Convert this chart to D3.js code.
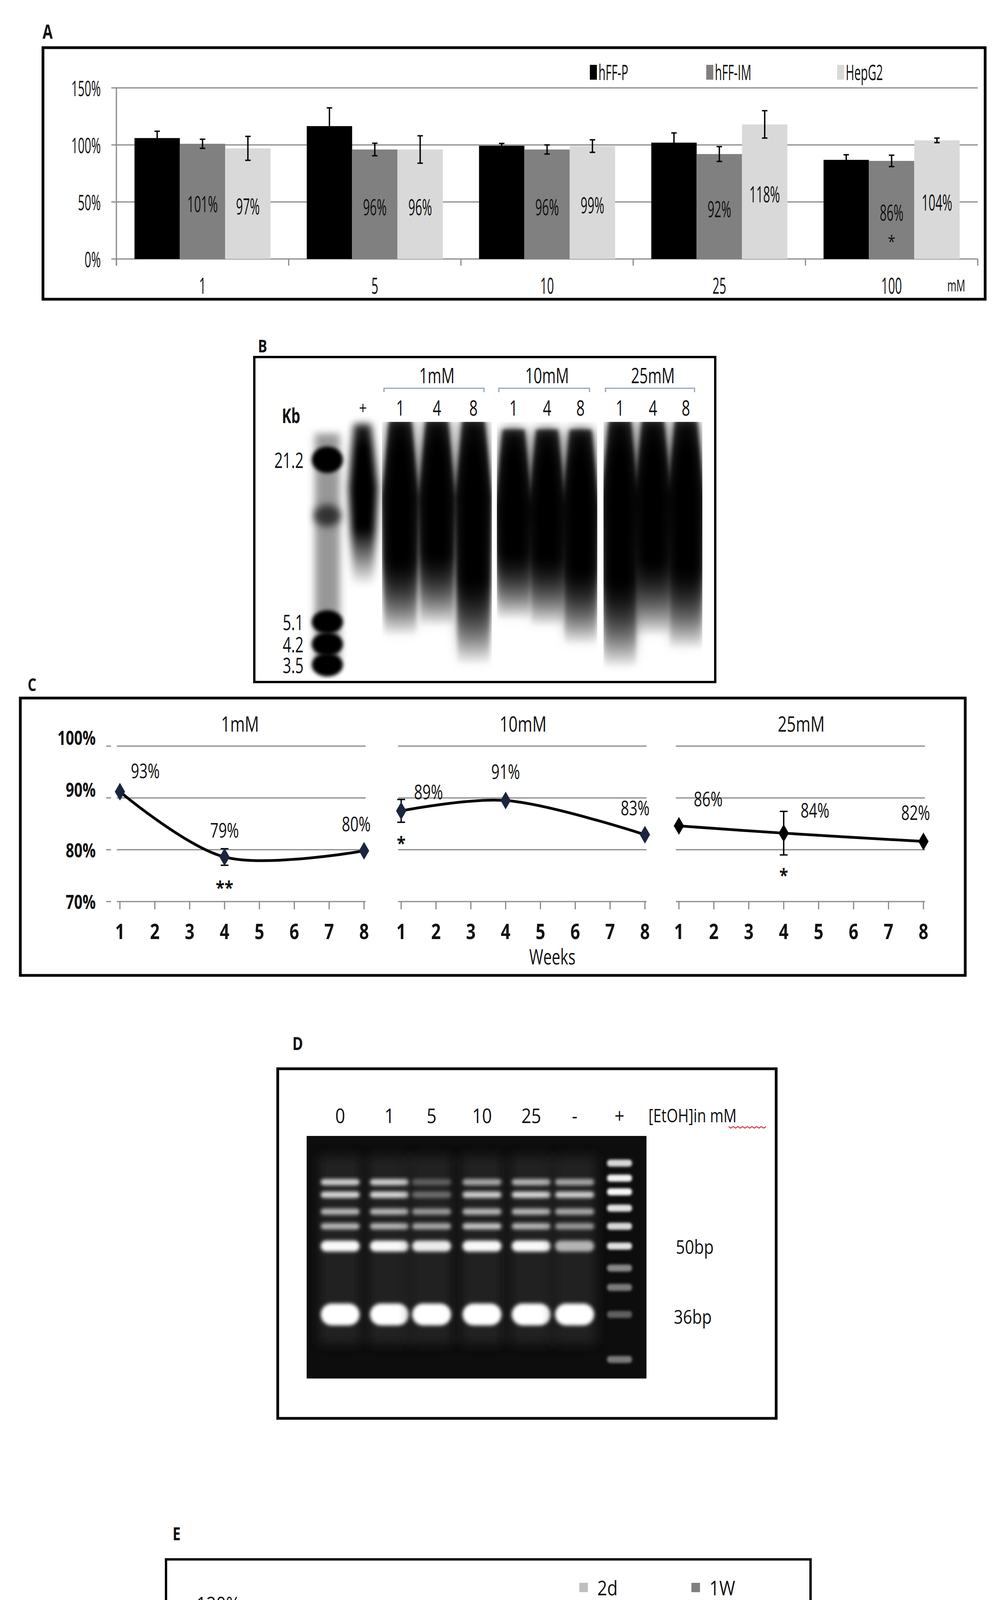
<!DOCTYPE html>
<html>
<head>
<meta charset="utf-8">
<script src="https://cdn.jsdelivr.net/npm/d3@7"></script>
<style>
  html, body { margin: 0; padding: 0; background: #fff; overflow: hidden; }
  svg { display: block; }
  text { font-family: "Open Sans", "DejaVu Sans", sans-serif; fill: #111; }
</style>
</head>
<body>
<svg id="fig" width="2560" height="4792"></svg>
<script>
'use strict';

// ---- Panel A data ----
const concA = ['1', '5', '10', '25', '100'];
const seriesA = ['hFF-P', 'hFF-IM', 'HepG2'];
const hffP = [106, 116.5, 99.3, 102, 86.9];
const hffIM = [101, 96, 96, 92, 86];
const hepG2A = [97, 96, 99, 118, 104];
const errP = [6, 16, 2, 8.5, 4.5];
const errIM = [4, 5.5, 4, 6.5, 5];
const errHep = [10.5, 12, 5.5, 12, 2];
const starsA = ['', '', '', '', '*'];   // on hFF-IM bars
const ticksA = [0, 50, 100, 150];

// ---- Panel B data ----
const gelBGroups = ['1mM', '10mM', '25mM'];
const gelBLanes = ['1', '4', '8'];
const markerKb = [21.2, 5.1, 4.2, 3.5];
const smearEndKb = [[4.5, 4.9, 3.5], [5.2, 4.9, 4.15], [3.4, 4.5, 4.0]];

// ---- Panel C data ----
const groupsC = ['1mM', '10mM', '25mM'];
const weeks = [1, 2, 3, 4, 5, 6, 7, 8];
const measuredWeeks = [1, 4, 8];
const valuesC = [[93, 79, 80], [89, 91, 83], [86, 84, 82]];
const posC = [[91.2, 78.6, 79.8], [87.5, 89.5, 82.9], [84.6, 83.2, 81.6]];
const errC = [[0, 1.6, 0], [2.2, 0, 0], [0, 4.2, 0]];
const starsC = [['', '**', ''], ['*', '', ''], ['', '*', '']];
const ticksC = [70, 80, 90, 100];

// ---- Panel D data ----
const lanesD = ['0', '1', '5', '10', '25', '-', '+'];
const bandsBp = [68, 64, 59, 55, 50, 36];
const bandLevel = [
  [0.7, 0.75, 0.6, 0.6, 0.95, 1],
  [0.7, 0.75, 0.6, 0.6, 0.95, 1],
  [0.3, 0.35, 0.5, 0.55, 0.85, 1],
  [0.55, 0.7, 0.6, 0.65, 0.95, 1],
  [0.6, 0.75, 0.6, 0.6, 0.95, 1],
  [0.55, 0.7, 0.55, 0.5, 0.6, 1]
];
const ladderBp = [74.5, 69.3, 64.9, 60, 55, 50, 45, 41, 36, 29];
const ladderLevel = [0.75, 0.9, 0.95, 0.8, 0.75, 0.8, 0.45, 0.4, 0.3, 0.4];

// ---- Panel E data ----
const cellsE = ['hFF-IM', 'hFF-P', 'HepG2'];
const seriesE = ['2d', '1W'];
const val2d = [100, 99, 94];
const val1W = [95, 95, 104];
const err2d = [8.4, 2.7, 8.8];
const err1W = [10, 3.1, 9.3];
const ticksE = [60, 80, 100, 120];

const svg = d3.select('#fig');

/*** squeezed text (panel A text is compressed horizontally) ***/
function stext(g, x, y, s, size, sx, anchor, weight) {
  return g.append('text')
    .attr('transform', `translate(${x},${y}) scale(${sx},1)`)
    .attr('text-anchor', anchor || 'middle')
    .attr('dominant-baseline', 'central')
    .attr('font-size', size)
    .attr('font-weight', weight || 'normal')
    .text(s);
}

function box(x0, y0, x1, y1, w) {
  svg.append('rect').attr('x', x0).attr('y', y0).attr('width', x1 - x0).attr('height', y1 - y0)
    .attr('fill', 'none').attr('stroke', '#000').attr('stroke-width', w);
}

function errBar(g, x, yTop, yBot, cap) {
  g.append('line').attr('x1', x).attr('x2', x).attr('y1', yTop).attr('y2', yBot).attr('stroke', '#000').attr('stroke-width', 3.5);
  [yTop, yBot].forEach(yy => g.append('line').attr('x1', x - cap).attr('x2', x + cap).attr('y1', yy).attr('y2', yy)
    .attr('stroke', '#000').attr('stroke-width', 3.5));
}

const defs = svg.append('defs');
[3, 5, 10, 14].forEach(s => defs.append('filter').attr('id', 'blur' + s).attr('x', '-50%').attr('y', '-50%')
  .attr('width', '200%').attr('height', '200%')
  .append('feGaussianBlur').attr('stdDeviation', s));

// ================= Panel A =================
function panelA() {
  const g = svg.append('g');
  stext(g, 122, 80, 'A', 50, 0.75, 'middle', 'bold');
  box(110, 122, 2522, 766, 7);
  const y = d3.scaleLinear().domain([0, 150]).range([663, 225]);
  const x = d3.scaleBand().domain(concA).range([298, 2503]).paddingInner(0.21).paddingOuter(0.105);
  const xs = d3.scaleBand().domain(seriesA).range([0, x.bandwidth()]);
  const colors = d3.scaleOrdinal().domain(seriesA).range(['#000000', '#808080', '#d9d9d9']);

  ticksA.forEach(t => {
    g.append('line').attr('x1', 285).attr('x2', 2503).attr('y1', y(t)).attr('y2', y(t)).attr('stroke', '#888').attr('stroke-width', 3);
    stext(g, 258, y(t), t + '%', 54, 0.55, 'end');
  });
  g.append('line').attr('x1', 298).attr('x2', 298).attr('y1', y(150)).attr('y2', 680).attr('stroke', '#888').attr('stroke-width', 3);
  d3.range(6).forEach(i => {
    const xx = 298 + i * x.step();
    g.append('line').attr('x1', xx).attr('x2', xx).attr('y1', y(0)).attr('y2', 680).attr('stroke', '#888').attr('stroke-width', 3);
  });

  const rows = [hffP, hffIM, hepG2A];
  const errs = [errP, errIM, errHep];
  seriesA.forEach((s, si) => {
    concA.forEach((c, ci) => {
      const v = rows[si][ci];
      const bx = x(c) + xs(s);
      g.append('rect').attr('x', bx).attr('y', y(v)).attr('width', xs.bandwidth()).attr('height', y(0) - y(v))
        .attr('fill', colors(s));
      const cx = bx + xs.bandwidth() / 2;
      errBar(g, cx, y(v + errs[si][ci]), y(v - errs[si][ci]), 7);
      if (si > 0) stext(g, cx, y(v / 2) + 6, v + '%', 56, 0.55);
      if (si === 1 && starsA[ci]) stext(g, cx, 617, starsA[ci], 44, 0.8);
    });
  });

  concA.forEach(c => stext(g, x(c) + x.bandwidth() / 2, 730, c, 56, 0.55));
  stext(g, 2425, 730, 'mM', 42, 0.6, 'start');

  const legX = [1510, 1808, 2143];
  seriesA.forEach((s, i) => {
    g.append('rect').attr('x', legX[i]).attr('y', 166).attr('width', 18).attr('height', 38).attr('fill', colors(s));
    stext(g, legX[i] + 22, 184, s, 54, 0.55, 'start');
  });
}

// ================= Panel B =================
function panelB() {
  const g = svg.append('g');
  stext(g, 672, 885, 'B', 44, 0.8, 'middle', 'bold');
  box(651, 914, 1831, 1746, 6);
  const y = d3.scaleLog().domain([3.5, 21.2]).range([1702, 1177]);

  const panels = [[978, 1259], [1272, 1529], [1545, 1798]];
  const laneX = d3.scalePoint().domain(gelBLanes).padding(0.5);

  const grad = defs.append('linearGradient').attr('id', 'smear').attr('x1', 0).attr('x2', 0).attr('y1', 0).attr('y2', 1);
  grad.append('stop').attr('offset', '0%').attr('stop-color', '#000').attr('stop-opacity', 0.85);
  grad.append('stop').attr('offset', '15%').attr('stop-color', '#000');
  grad.append('stop').attr('offset', '65%').attr('stop-color', '#000');
  grad.append('stop').attr('offset', '100%').attr('stop-color', '#000').attr('stop-opacity', 0);

  gelBGroups.forEach((grp, gi) => {
    const [p0, p1] = panels[gi];
    laneX.range([p0, p1]);
    const mid = (p0 + p1) / 2;
    stext(g, mid, 960, grp, 54, 0.7);
    g.append('path').attr('d', `M${p0 + 5},1004 L${p0 + 5},994 L${p1 - 20},994 L${p1 - 20},1004`)
      .attr('fill', 'none').attr('stroke', '#8ea4c8').attr('stroke-width', 3);
    const clip = defs.append('clipPath').attr('id', 'clipB' + gi);
    clip.append('rect').attr('x', p0).attr('y', 1080).attr('width', p1 - p0).attr('height', 640);
    const lg = g.append('g').attr('clip-path', `url(#clipB${gi})`);
    gelBLanes.forEach((ln, li) => {
      const cx = laneX(ln);
      stext(g, cx, 1043, ln, 54, 0.7);
      const top = gi === 1 ? 1100 : 1075;
      const bot = y(smearEndKb[gi][li]);
      // tapered smear: narrow top, wider body, fading tail
      const shape = `M${cx - 28},${top} L${cx + 28},${top} L${cx + 46},${top + 200} L${cx + 40},${bot} L${cx - 40},${bot} L${cx - 46},${top + 200} Z`;
      lg.append('path').attr('d', shape).attr('fill', 'url(#smear)').attr('filter', 'url(#blur14)');
      lg.append('path').attr('d', shape).attr('fill', 'url(#smear)').attr('opacity', 0.8).attr('filter', 'url(#blur5)');
    });
  });

  // ladder lane
  const ladder = g.append('g');
  ladder.append('rect').attr('x', 806).attr('y', 1110).attr('width', 64).attr('height', 590).attr('fill', '#333')
    .attr('opacity', 0.5).attr('filter', 'url(#blur10)');
  markerKb.forEach(kb => ladder.append('ellipse').attr('cx', 838).attr('cy', y(kb)).attr('rx', 40).attr('ry', kb > 20 ? 34 : 30)
    .attr('fill', '#000').attr('filter', 'url(#blur5)'));
  ladder.append('ellipse').attr('cx', 838).attr('cy', 1320).attr('rx', 34).attr('ry', 28).attr('fill', '#333').attr('filter', 'url(#blur10)');
  // "+" lane
  const plus = `M906,1085 L950,1085 L968,1250 L955,1500 L905,1500 L892,1250 Z`;
  ladder.append('path').attr('d', plus).attr('fill', 'url(#smear)').attr('filter', 'url(#blur10)');
  stext(g, 929, 1043, '+', 44, 0.8);

  stext(g, 745, 1063, 'Kb', 52, 0.7, 'middle', 'bold');
  markerKb.forEach(kb => stext(g, 777, y(kb), String(kb), 54, 0.7, 'end'));
}

// ================= Panel C =================
function panelC() {
  const g = svg.append('g');
  stext(g, 82, 1752, 'C', 44, 0.8, 'middle', 'bold');
  box(52, 1787, 2471, 2497, 7);
  const y = d3.scaleLinear().domain([70, 100]).range([2308, 1910]);
  const ranges = [[307, 932], [1027, 1651], [1738, 2364]];
  const labelOff = [[[65, -55], [0, -70], [-20, -70]], [[70, -50], [0, -75], [-25, -70]], [[75, -70], [80, -60], [-20, -75]]];

  ticksC.forEach(t => {
    stext(g, 245, y(t) + (t >= 90 ? -22 : 0), t + '%', 50, 0.75, 'end', 'bold');
    g.append('line').attr('x1', 272).attr('x2', 284).attr('y1', y(t)).attr('y2', y(t)).attr('stroke', '#888').attr('stroke-width', 3);
  });

  groupsC.forEach((grp, gi) => {
    const x = d3.scaleLinear().domain([1, 8]).range(ranges[gi]);
    ticksC.forEach(t => g.append('line').attr('x1', x(1) - 8).attr('x2', x(8) + 4).attr('y1', y(t)).attr('y2', y(t))
      .attr('stroke', '#888').attr('stroke-width', 3));
    weeks.forEach(w => {
      g.append('line').attr('x1', x(w)).attr('x2', x(w)).attr('y1', y(70)).attr('y2', y(70) + 20).attr('stroke', '#888').attr('stroke-width', 3);
      stext(g, x(w), 2383, String(w), 54, 0.8, 'middle', 'bold');
    });
    stext(g, (x(1) + x(8)) / 2 + (gi === 0 ? -5 : 0), 1852, grp, 54, 0.75);

    const pts = measuredWeeks.map((w, i) => [x(w), y(posC[gi][i])]);
    g.append('path').attr('d', d3.line().curve(d3.curveCatmullRom.alpha(0.5))(pts))
      .attr('fill', 'none').attr('stroke', '#000').attr('stroke-width', 7);
    measuredWeeks.forEach((w, i) => {
      const px = x(w), py = y(posC[gi][i]);
      if (errC[gi][i]) errBar(g, px, y(posC[gi][i] + errC[gi][i]), y(posC[gi][i] - errC[gi][i]), 10);
      g.append('path').attr('d', d3.symbol(d3.symbolDiamond, 600)()).attr('transform', `translate(${px},${py})`)
        .attr('fill', gi === 2 ? '#000' : '#1b2540');
      stext(g, px + labelOff[gi][i][0], py + labelOff[gi][i][1], valuesC[gi][i] + '%', 52, 0.72);
      if (starsC[gi][i]) {
        const sy = gi === 0 ? 2272 : (gi === 1 ? 2158 : 2240);
        stext(g, px, sy, starsC[gi][i], 46, 0.9, 'middle', 'bold');
      }
    });
  });
  stext(g, 1414, 2448, 'Weeks', 54, 0.72);
}

// ================= Panel D =================
function panelD() {
  const g = svg.append('g');
  stext(g, 762, 2670, 'D', 46, 0.8, 'middle', 'bold');
  box(711, 2736, 1987, 3631, 7);
  g.append('rect').attr('x', 785).attr('y', 2908).attr('width', 870).attr('height', 621).attr('fill', '#0d0d0d');
  const y = d3.scaleLog().domain([36, 50]).range([3365, 3190]);
  const xPos = d3.scaleOrdinal().domain(lanesD).range([871, 997, 1105, 1234, 1360, 1471, 1586]);
  const lg = g.append('g');
  lanesD.slice(0, 6).forEach((ln, li) => {
    const cx = xPos(ln);
    lg.append('rect').attr('x', cx - 55).attr('y', 2960).attr('width', 110).attr('height', 480).attr('fill', '#2a2a2a').attr('opacity', 0.7)
      .attr('filter', 'url(#blur14)');
    bandsBp.forEach((bp, bi) => {
      const h = bp === 36 ? 56 : (bp === 50 ? 28 : 16);
      const lv = bandLevel[li][bi];
      lg.append('rect').attr('x', cx - 50).attr('y', y(bp) - h / 2).attr('width', 100).attr('height', h).attr('rx', h / 2)
        .attr('fill', d3.interpolateGreys(1 - lv)).attr('filter', 'url(#blur5)');
    });
  });
  ladderBp.forEach((bp, i) => lg.append('rect').attr('x', xPos('+') - 32).attr('y', y(bp) - 9).attr('width', 64).attr('height', 18)
    .attr('rx', 8).attr('fill', d3.interpolateGreys(1 - ladderLevel[i])).attr('filter', 'url(#blur3)'));

  lanesD.forEach(ln => stext(g, xPos(ln), 2855, ln, 52, 0.85));
  stext(g, 1660, 2855, '[EtOH]in mM', 48, 0.78, 'start');
  g.append('path').attr('d', d3.range(0, 102, 6).map((d, i) => (i ? 'L' : 'M') + (1865 + d) + ',' + (2884 + (i % 2 ? 4 : 0))).join(''))
    .attr('fill', 'none').attr('stroke', '#e03040').attr('stroke-width', 2.5);
  stext(g, 1730, y(50), '50bp', 50, 0.82, 'start');
  stext(g, 1725, y(36) + 4, '36bp', 50, 0.82, 'start');
}

// ================= Panel E =================
function panelE() {
  const g = svg.append('g');
  stext(g, 452, 3925, 'E', 46, 0.8, 'middle', 'bold');
  box(425, 3992, 2075, 4752, 6);
  const y = d3.scaleLinear().domain([60, 120]).range([4617, 4105]);
  const x = d3.scaleBand().domain(cellsE).range([667, 2024]).paddingInner(0.314).paddingOuter(0.157);
  const xs = d3.scaleBand().domain(seriesE).range([0, x.bandwidth()]);
  const colors = d3.scaleOrdinal().domain(seriesE).range(['#c0c0c0', '#808080']);

  ticksE.forEach(t => {
    g.append('line').attr('x1', 655).attr('x2', 2024).attr('y1', y(t)).attr('y2', y(t)).attr('stroke', '#888').attr('stroke-width', 3);
    stext(g, 615, y(t), t + '%', 52, 0.85, 'end');
  });
  g.append('line').attr('x1', 667).attr('x2', 667).attr('y1', y(120)).attr('y2', y(60) + 20).attr('stroke', '#888').attr('stroke-width', 3);
  d3.range(4).forEach(i => {
    const xx = 667 + i * x.step();
    g.append('line').attr('x1', xx).attr('x2', xx).attr('y1', y(60)).attr('y2', y(60) + 20).attr('stroke', '#888').attr('stroke-width', 3);
  });

  const rows = [val2d, val1W];
  const errs = [err2d, err1W];
  seriesE.forEach((s, si) => cellsE.forEach((c, ci) => {
    const v = rows[si][ci];
    const bx = x(c) + xs(s);
    g.append('rect').attr('x', bx).attr('y', y(v)).attr('width', xs.bandwidth()).attr('height', y(60) - y(v)).attr('fill', colors(s));
    const cx = bx + xs.bandwidth() / 2;
    errBar(g, cx, y(v + errs[si][ci]), y(v - errs[si][ci]), 11);
    stext(g, cx, y(60 + (v - 60) * 0.33), v + '%', 56, 0.85);
  }));
  cellsE.forEach(c => stext(g, x(c) + x.bandwidth() / 2, 4687, c, 54, 0.85));
  const legX = [1483, 1770];
  seriesE.forEach((s, i) => {
    g.append('rect').attr('x', legX[i]).attr('y', 4052).attr('width', 22).attr('height', 24).attr('fill', colors(s));
    stext(g, legX[i] + 46, 4064, s, 52, 0.85, 'start');
  });
}

panelA();
panelB();
panelC();
panelD();
panelE();
</script>
</body>
</html>
